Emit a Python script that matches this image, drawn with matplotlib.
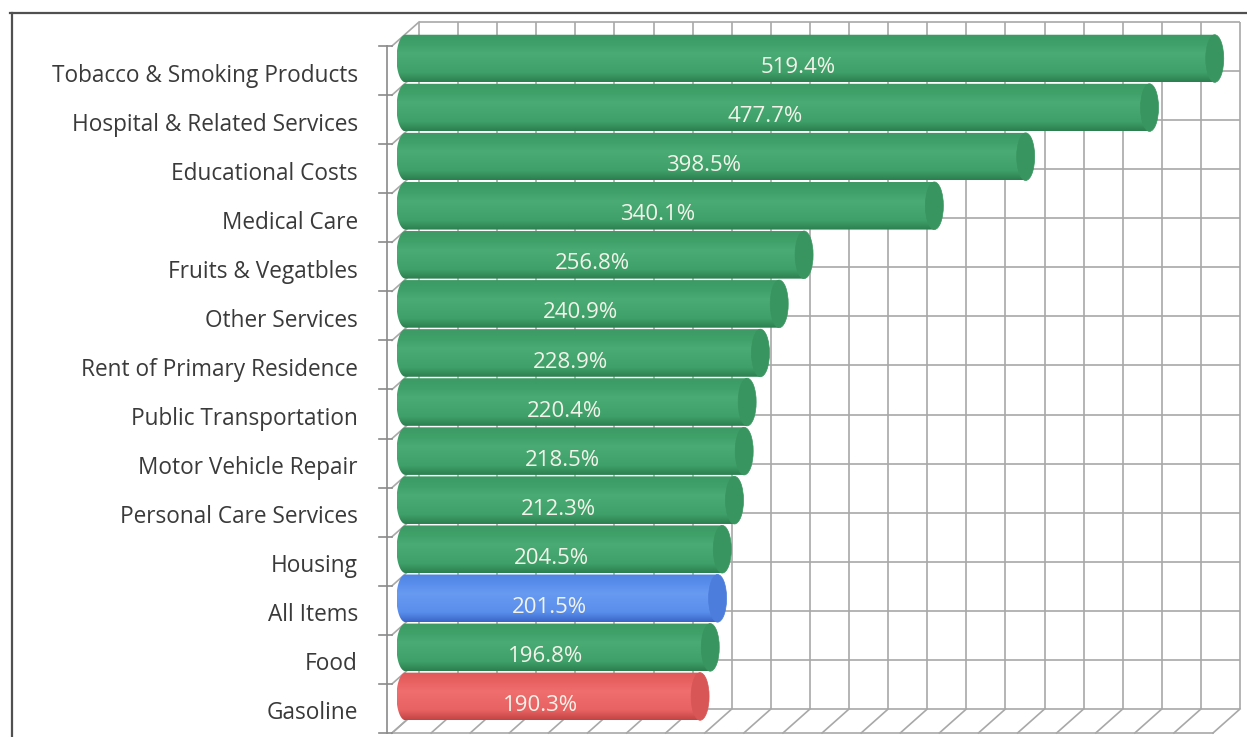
import numpy as np
import matplotlib.pyplot as plt
from matplotlib.patches import PathPatch, Ellipse
from matplotlib.path import Path
from matplotlib.lines import Line2D
from matplotlib.colors import to_rgb

plt.rcParams["font.family"] = ["Open Sans", "DejaVu Sans"]

# Price increase by category, bottom to top
categories = ["Gasoline", "Food", "All Items", "Housing", "Personal Care Services",
              "Motor Vehicle Repair", "Public Transportation", "Rent of Primary Residence",
              "Other Services", "Fruits & Vegatbles", "Medical Care", "Educational Costs",
              "Hospital & Related Services", "Tobacco & Smoking Products"]
values = [190.3, 196.8, 201.5, 204.5, 212.3, 218.5, 220.4, 228.9,
          240.9, 256.8, 340.1, 398.5, 477.7, 519.4]
bar_kind = ["red", "green", "blue"] + ["green"] * 11

# cylinder shading: (top, highlight, middle, bottom, end cap)
palette = {
    "green": ["#3d9a64", "#4aab74", "#3fa169", "#2c8050", "#39955f"],
    "blue": ["#4f84e4", "#679af0", "#5a8eec", "#3a66c8", "#4c7ddc"],
    "red": ["#e05a5a", "#f06e6e", "#e86262", "#c44444", "#d85656"],
}

W, H = 1247, 737
fig = plt.figure(figsize=(W / 100, H / 100), dpi=100)

# back wall placement (pixels) and 3D depth offset
WALL_X0, WALL_X1 = 419, 1240
WALL_TOP, WALL_BOT = 22, 709
X_MAX, X_STEP = 525, 25
n = len(categories)
px_x = (WALL_X1 - WALL_X0) / X_MAX
px_y = (WALL_BOT - WALL_TOP) / n
DX = -27 / px_x
DY = -24 / px_y

xlim = (-45, 526)
ylim = (-1.2, 13.6)
left = WALL_X0 + xlim[0] * px_x
right = WALL_X0 + xlim[1] * px_x
bottom = (H - WALL_BOT) + (ylim[0] + 0.5) * px_y
top = (H - WALL_BOT) + (ylim[1] + 0.5) * px_y
ax = fig.add_axes([left / W, bottom / H, (right - left) / W, (top - bottom) / H])

rows = np.arange(n + 1) - 0.5
cols = np.arange(0, X_MAX + 1, X_STEP)
grid_kw = dict(color="#a8a8a8", lw=1.2, clip_on=False, zorder=1)

# back wall
ax.vlines(cols, rows[0], rows[-1], **grid_kw)
ax.hlines(rows, 0, X_MAX, **grid_kw)
# side wall
for r in rows:
    ax.plot([0, DX], [r, r + DY], **grid_kw)
# floor
for c in cols:
    ax.plot([c, c + DX], [rows[0], rows[0] + DY], **grid_kw)
ax.plot([DX, X_MAX + DX], [rows[0] + DY] * 2, **grid_kw)

# category axis line with tick marks
axis_x = DX - 5 / px_x
ax.plot([axis_x, axis_x], [rows[0] + DY, rows[-1] + DY], color="#8a8a8a", lw=1.2, clip_on=False, zorder=1)
for r in rows:
    ax.plot([axis_x - 8 / px_x, DX], [r + DY] * 2, color="#8a8a8a", lw=1.2, clip_on=False, zorder=1)


def shade(kind, npts=64):
    top_c, hi, mid, bot, _ = [np.array(to_rgb(c)) for c in palette[kind]]
    stops = np.array([0.0, 0.2, 0.6, 0.8, 1.0])
    cols_ = np.array([bot, mid, hi, mid, top_c])
    t = np.linspace(0, 1, npts)
    g = np.stack([np.interp(t, stops, cols_[:, k]) for k in range(3)], axis=-1)
    return g[:, None, :]


cap_a = 9 / px_x
bar_h = 0.97
theta = np.linspace(np.pi / 2, 3 * np.pi / 2, 50)
for i, (v, kind) in enumerate(zip(values, bar_kind)):
    x0 = DX / 2
    yc = i + DY / 2
    x1 = x0 + v - 3 / px_x
    z = 3 + i * 0.1
    arc = np.column_stack([x0 + cap_a * np.cos(theta), yc + bar_h / 2 * np.sin(theta)])
    verts = np.vstack([[x1, yc + bar_h / 2], arc, [x1, yc - bar_h / 2], [x1, yc + bar_h / 2]])
    body = PathPatch(Path(verts, closed=True), facecolor="none", edgecolor="none", zorder=z)
    ax.add_patch(body)
    im = ax.imshow(shade(kind), extent=(x0 - cap_a, x1, yc - bar_h / 2, yc + bar_h / 2),
                   origin="lower", aspect="auto", interpolation="bilinear", zorder=z)
    im.set_clip_path(body)
    ax.add_patch(Ellipse((x1, yc), 2 * cap_a, bar_h, facecolor=palette[kind][4],
                         edgecolor=palette[kind][4], lw=0.5, zorder=z + 0.05))
    ax.text(DX + v / 2, i + DY + 0.06, f"{v:.1f}%", ha="center", va="center",
            color="#f3f3ea", fontsize=16, zorder=10)
    ax.annotate(categories[i], xy=(DX, i + DY), xytext=(-34, -5), textcoords="offset pixels",
                ha="right", va="center", fontsize=16.3, color="#3a3a3a")

ax.set_xlim(*xlim)
ax.set_ylim(*ylim)
ax.axis("off")

# outer chart border
fig.add_artist(Line2D([10 / W, 1], [1 - 13 / H] * 2, transform=fig.transFigure, color="#505050", lw=1.6))
fig.add_artist(Line2D([12 / W] * 2, [0, 1 - 13 / H], transform=fig.transFigure, color="#505050", lw=1.6))

fig.savefig("out.png", dpi=100)
